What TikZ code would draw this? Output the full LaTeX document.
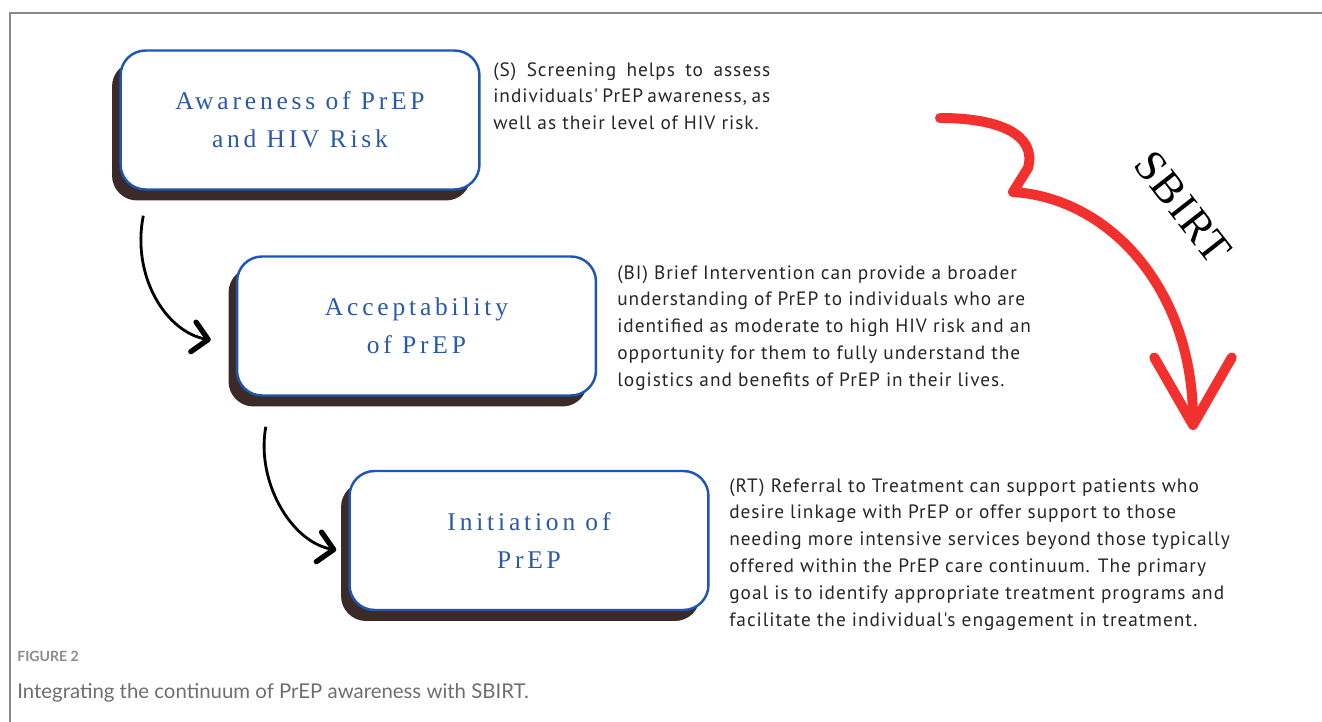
\documentclass[tikz,border=0pt]{standalone}
\usepackage{fontspec}
\usetikzlibrary{arrows.meta,shadows}

\newfontfamily\stagefont[LetterSpace=15]{Liberation Serif}
\newfontfamily\notefont[LetterSpace=5]{PT Sans}
\newfontfamily\capfont{Lato}
\newfontfamily\sbirtfont[LetterSpace=4]{Liberation Serif}

\definecolor{stageblue}{HTML}{1E56B4}
\definecolor{stagetext}{HTML}{2A59A8}
\definecolor{shadowbrown}{HTML}{3B2A28}
\definecolor{sbirtred}{HTML}{F2312E}
\definecolor{framegray}{HTML}{888888}
\definecolor{capgray}{HTML}{6E6E6E}
\definecolor{notetext}{HTML}{262626}

\begin{document}
\begin{tikzpicture}[
            x=0.02cm, y=-0.02cm,
            stage/.style={
                rectangle,
                rounded corners=0.5cm,
                draw=stageblue,
                line width=1.4pt,
                fill=white,
                minimum width=7.18cm,
                minimum height=2.78cm,
                align=center,
                text=stagetext,
                font=\stagefont\fontsize{14.5}{21.5}\selectfont,
                general shadow={fill=shadowbrown, shadow xshift=-0.17cm, shadow yshift=-0.22cm}
            },
            note/.style={
                anchor=north west,
                inner sep=0pt,
                align=left,
                text=notetext,
                font=\notefont\fontsize{11}{15.3}\selectfont
            },
            flow/.style={-{Straight Barb[length=0.3cm, width=0.6cm, line width=3pt, round]}, line width=1.6pt, black},
            swoosh/.style={-{Straight Barb[length=1.35cm, width=1.55cm, round]}, line width=0.2cm, sbirtred, line cap=round, line join=round}
        ]
        \useasboundingbox (0,0) rectangle (1322,722);

        % Figure frame (top and left rules)
        \draw[framegray, line width=1.1pt] (10,722) -- (10,13) -- (1322,13);

        % Stages of the continuum
        \node[stage] (aware) at (300,120) {Awareness of PrEP\\and HIV Risk};
        \node[stage] (accept) at (416.5,326) {Acceptability\\of PrEP};
        \node[stage] (init) at (529,540.5) {Initiation of\\PrEP};

        % SBIRT notes next to each stage
        \node[note] (screen) at (493,62) {%
            \makebox[5.54cm][s]{(S) Screening helps to assess}\\
            \makebox[5.54cm][s]{individuals' PrEP awareness, as}\\
            well as their level of HIV risk.};
        \node[note] (brief) at (617,265) {%
            (BI) Brief Intervention can provide a broader\\
            understanding of PrEP to individuals who are\\
            identified as moderate to high HIV risk and an\\
            opportunity for them to fully understand the\\
            logistics and benefits of PrEP in their lives.};
        \node[note] (refer) at (729,478) {%
            (RT) Referral to Treatment can support patients who\\
            desire linkage with PrEP or offer support to those\\
            needing more intensive services beyond those typically\\
            offered within the PrEP care continuum. The primary\\
            goal is to identify appropriate treatment programs and\\
            facilitate the individual's engagement in treatment.};

        % Connecting arrows
        \draw[flow] ([xshift=0.48cm, yshift=-0.5cm]aware.south west)
            .. controls +(-12,60) and +(-45,-8) .. ([xshift=-0.5cm, yshift=-0.28cm]accept.west);
        \draw[flow] ([xshift=0.6cm, yshift=-0.6cm]accept.south west)
            .. controls +(-10,55) and +(-45,-8) .. ([xshift=-0.24cm, yshift=-0.19cm]init.west);

        % SBIRT swoosh
        \coordinate (swstart) at (940,118);
        \coordinate (swtip) at (1193,430);
        \draw[swoosh] (swstart) .. controls (1000,118) and (1037,135) .. (1028,168)
            -- (1013,192) .. controls (1110,198) and (1193,290) .. (swtip);
        \node[font=\sbirtfont\fontsize{25}{25}\selectfont, rotate=-52] (sbirt) at (1183,207) {SBIRT};

        % Caption
        \node[anchor=west, inner sep=0pt, text=capgray!80, font=\capfont\bfseries\fontsize{8}{10}\selectfont] (fignum) at (17,656) {FIGURE 2};
        \node[anchor=west, inner sep=0pt, text=capgray, font=\capfont\fontsize{11.6}{13}\selectfont] (figcap) at (17,693) {Integrating the continuum of PrEP awareness with SBIRT.};

        \end{tikzpicture}
\end{document}
